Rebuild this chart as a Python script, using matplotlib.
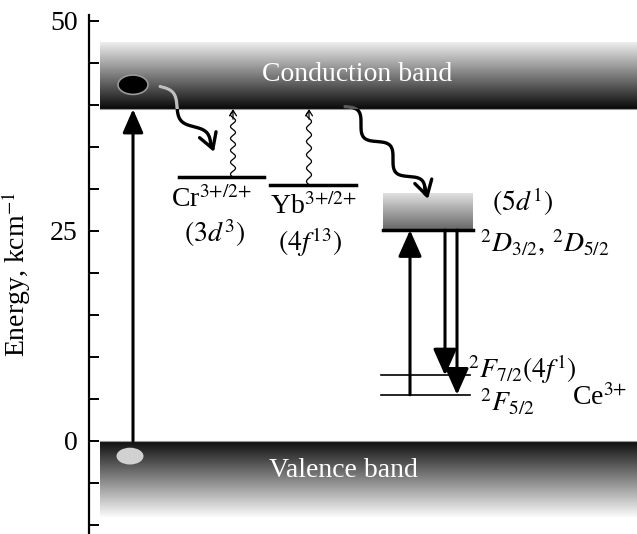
import numpy as np
import matplotlib.pyplot as plt
from matplotlib.patches import Ellipse, Rectangle

plt.rcParams['font.family'] = ['Liberation Serif', 'DejaVu Serif']
plt.rcParams['mathtext.fontset'] = 'stix'
plt.rcParams['font.size'] = 20

# energy levels, kcm^-1
conduction_band = (39.5, 47.4)
valence_band = (-9.0, 0.0)
cr_level = 31.4
yb_level = 30.5
ce_5d_band = (25.1, 29.5)
ce_f72 = 7.8
ce_f52 = 5.5
electron_e = 42.4
hole_e = -1.8

# horizontal layout (schematic units)
band_x = (11, 560)
cr_x = (90, 175)
yb_x = (181, 267)
ce_box_x = (294, 384)
ce_line_x = (292, 381)
pump_x = 44
ce_up_x = 321
ce_down_x = (356, 368)
cr_wave_x = 144
yb_wave_x = 220

yticks_major = [0, 25, 50]
yticks_minor = np.arange(-10, 51, 5)

fig = plt.figure(figsize=(6.37, 5.34), dpi=100)
ax = fig.add_axes([89 / 637, 0, 548 / 637, 1 - 15 / 534])
ax.set_xlim(0, 548)
ax.set_ylim(-11.07, 50.7)
K = 8.4  # px per energy unit (for wavy lines)


def gradient(x, y, top, bottom, z=1):
    g = np.linspace(bottom, top, 128).reshape(-1, 1)
    ax.imshow(g, extent=[x[0], x[1], y[0], y[1]], cmap='gray', vmin=0, vmax=1,
              aspect='auto', origin='lower', interpolation='bilinear', zorder=z)


def wavy(x0, e0, x1, e1, amp, waves):
    y0, y1 = e0 * K, e1 * K
    t = np.linspace(0, 1, 300)
    dx, dy = x1 - x0, y1 - y0
    L = np.hypot(dx, dy)
    nx, ny = -dy / L, dx / L
    off = amp * np.sin(2 * np.pi * waves * t)
    xs = x0 + dx * t + nx * off
    ys = y0 + dy * t + ny * off
    return xs, ys / K


# bands
gradient(band_x, conduction_band, 0.93, 0.04)
gradient(band_x, valence_band, 0.06, 0.98)
ax.plot(band_x, [conduction_band[0]] * 2, color='0.6', lw=0.8, zorder=2)
ax.plot(band_x, [valence_band[1]] * 2, color='0.6', lw=0.8, zorder=2)
ax.text(268, 43.6, 'Conduction band', color='white', ha='center', va='center', zorder=5)
ax.text(254, -3.5, 'Valence band', color='white', ha='center', va='center', zorder=5)

# electron / hole
ax.add_patch(Ellipse((pump_x, electron_e), 30, 2.3, facecolor='black', edgecolor='0.6', lw=1.2, zorder=6))
ax.add_patch(Ellipse((pump_x - 3, hole_e), 27, 2.0, facecolor='0.82', edgecolor='none', zorder=6))

# pump arrow
ax.annotate('', xy=(pump_x, conduction_band[0]), xytext=(pump_x, 0),
            arrowprops=dict(arrowstyle='-|>,head_length=0.8,head_width=0.35', lw=2.2,
                            color='black', mutation_scale=18, shrinkA=0, shrinkB=0), zorder=4)

# Cr and Yb levels
ax.plot(cr_x, [cr_level] * 2, color='black', lw=2.5, zorder=3)
ax.plot(yb_x, [yb_level] * 2, color='black', lw=2.5, zorder=3)
for wx, lev in [(cr_wave_x, cr_level), (yb_wave_x, yb_level)]:
    xs, es = wavy(wx, lev, wx, conduction_band[0] - 0.3, 2.5, 5.5)
    ax.plot(xs, es, color='black', lw=0.9, zorder=3)
    ax.annotate('', xy=(wx, conduction_band[0]), xytext=(wx, conduction_band[0] - 1.2),
                arrowprops=dict(arrowstyle='->,head_length=0.4,head_width=0.25', lw=0.9,
                                mutation_scale=10, shrinkA=0, shrinkB=0), zorder=3)

ax.text(82, 28.7, 'Cr$^{3{+}/2{+}}$', ha='left', va='center')
ax.text(95, 24.8, r'$(3d^3)$', ha='left', va='center')
ax.text(181, 27.9, 'Yb$^{3{+}/2{+}}$', ha='left', va='center')
ax.text(189, 23.7, r'$(4f^{13})$', ha='left', va='center')

# relaxation squiggles
clip = Rectangle((band_x[0], conduction_band[0]), band_x[1] - band_x[0],
                 conduction_band[1] - conduction_band[0], transform=ax.transData)
for (sx, se, ex, ee, amp, waves, c) in [(71, 42.2, 122, 35.0, 6, 1.5, '0.75'),
                                        (256, 39.8, 336, 29.4, 7, 2.5, '0.35')]:
    xs, es = wavy(sx, se, ex, ee, amp, waves)
    ax.plot(xs, es, color='black', lw=2.4, zorder=3, solid_capstyle='round')
    line, = ax.plot(xs, es, color=c, lw=2.4, zorder=3.5, solid_capstyle='round')
    line.set_clip_path(clip)
    ax.annotate('', xy=(ex + 3, ee - 0.6), xytext=(xs[-15], es[-15]),
                arrowprops=dict(arrowstyle='->,head_length=0.6,head_width=0.35', lw=2.4,
                                mutation_scale=18, shrinkA=0, shrinkB=0), zorder=3)

# Ce3+ levels
gradient(ce_box_x, ce_5d_band, 0.88, 0.4, z=2)
ax.plot(ce_box_x, [ce_5d_band[0]] * 2, color='black', lw=2.5, zorder=3)
ax.plot(ce_line_x, [ce_f72] * 2, color='black', lw=1.2, zorder=3)
ax.plot(ce_line_x, [ce_f52] * 2, color='black', lw=1.2, zorder=3)
ax.annotate('', xy=(ce_up_x, ce_5d_band[0]), xytext=(ce_up_x, ce_f52),
            arrowprops=dict(arrowstyle='-|>,head_length=0.9,head_width=0.4', lw=2.2,
                            color='black', mutation_scale=18, shrinkA=0, shrinkB=0), zorder=4)
for dx, lev in zip(ce_down_x, [ce_f72, ce_f52]):
    ax.annotate('', xy=(dx, lev), xytext=(dx, ce_5d_band[0]),
                arrowprops=dict(arrowstyle='-|>,head_length=0.9,head_width=0.4', lw=2.2,
                                color='black', mutation_scale=18, shrinkA=0, shrinkB=0), zorder=4)

ax.text(403, 28.5, r'$(5d^1)$', ha='left', va='center')
ax.text(391, 23.6, r'$^2D_{3/2},\,^2D_{5/2}$', ha='left', va='center')
ax.text(379, 8.6, r'$^2F_{7/2}(4f^1)$', ha='left', va='center')
ax.text(391, 4.6, r'$^2F_{5/2}$', ha='left', va='center')
ax.text(483, 5.2, 'Ce$^{3{+}}$', ha='left', va='center')

# axis
for s in ['top', 'right', 'bottom']:
    ax.spines[s].set_visible(False)
ax.spines['left'].set_linewidth(1.6)
ax.spines['left'].set_bounds(-11.07, 50.7)
ax.set_xticks([])
ax.set_yticks(yticks_major)
ax.set_yticks(yticks_minor, minor=True)
ax.tick_params(axis='y', which='both', direction='in', length=7, width=1.4, labelsize=20, pad=8)
ax.set_ylabel('Energy, kcm$^{-1}$', fontsize=20, labelpad=12)

fig.savefig('out.png', dpi=100)
